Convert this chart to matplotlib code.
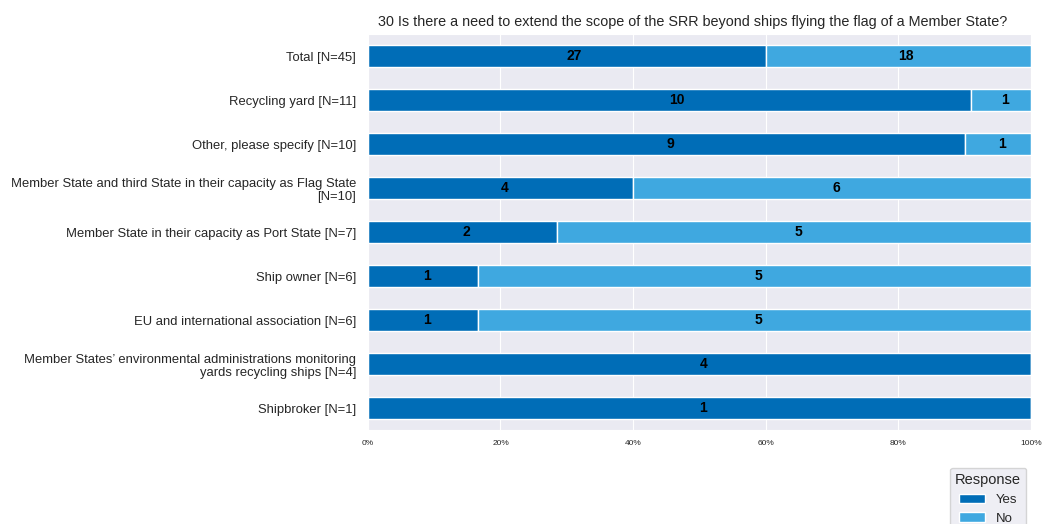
import matplotlib
matplotlib.use("Agg")
import matplotlib.pyplot as plt
import seaborn as sns
import numpy as np

categories = [
    "Total [N=45]",
    "Recycling yard [N=11]",
    "Other, please specify [N=10]",
    "Member State and third State in their capacity as Flag State\n[N=10]",
    "Member State in their capacity as Port State [N=7]",
    "Ship owner [N=6]",
    "EU and international association [N=6]",
    "Member States\u2019 environmental administrations monitoring\nyards recycling ships [N=4]",
    "Shipbroker [N=1]",
]
yes_counts = [27, 10, 9, 4, 2, 1, 1, 4, 1]
no_counts = [18, 1, 1, 6, 5, 5, 5, 0, 0]
series_names = ["Yes", "No"]
series_colors = ["#006db7", "#3fa8e0"]
title = "30 Is there a need to extend the scope of the SRR beyond ships flying the flag of a Member State?"

sns.set_style("darkgrid")
plt.rcParams["font.family"] = ["Liberation Sans", "DejaVu Sans"]

fig = plt.figure(figsize=(10.42, 5.24), dpi=100)
ax = fig.add_axes([0.353, 0.179, 0.6365, 0.756])

yes = np.array(yes_counts, dtype=float)
no = np.array(no_counts, dtype=float)
tot = yes + no
yes_pct = yes / tot * 100
no_pct = no / tot * 100
ypos = np.arange(len(categories))

ax.barh(ypos, yes_pct, height=0.5, color=series_colors[0], label=series_names[0])
ax.barh(ypos, no_pct, left=yes_pct, height=0.5, color=series_colors[1], label=series_names[1])

for i in range(len(categories)):
    if yes[i] > 0:
        ax.text(yes_pct[i] / 2, i, f"{int(yes[i])}", ha="left", va="center",
                fontsize=10, fontweight="bold", color="black")
    if no[i] > 0:
        ax.text(yes_pct[i] + no_pct[i] / 2, i, f"{int(no[i])}", ha="left", va="center",
                fontsize=10, fontweight="bold", color="black")

ax.set_xlim(0, 100)
ax.set_ylim(len(categories) - 0.5, -0.5)
ax.set_yticks(ypos)
ax.set_yticklabels(categories, fontsize=9.4)
ax.tick_params(axis="y", pad=5)
ax.set_xticks([0, 20, 40, 60, 80, 100])
ax.set_xticklabels(["0%", "20%", "40%", "60%", "80%", "100%"], fontsize=6)
ax.grid(axis="y", visible=False)
ax.set_title(title, fontsize=10.4, x=0.49)

ax.legend(title="Response", loc="upper right", bbox_to_anchor=(1.003, -0.078),
          fontsize=9.5, title_fontsize=10.5, frameon=True)

fig.savefig("out.png", dpi=100)
